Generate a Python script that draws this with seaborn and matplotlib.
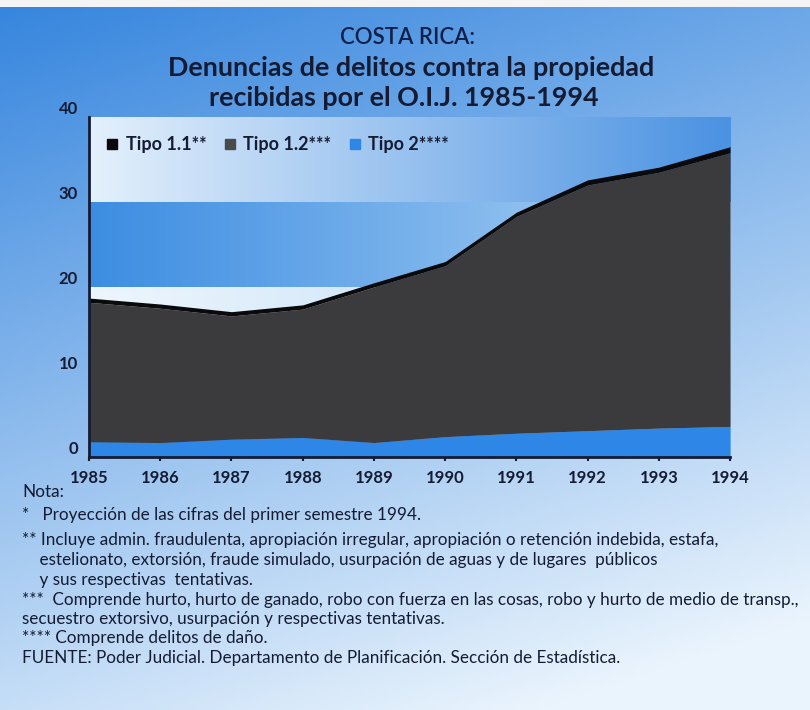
import matplotlib
matplotlib.use("Agg")
import matplotlib.pyplot as plt
import numpy as np
import pandas as pd
import seaborn as sns
from matplotlib.colors import to_rgb
from matplotlib.lines import Line2D

YEARS = [1985, 1986, 1987, 1988, 1989, 1990, 1991, 1992, 1993, 1994]
TIPO_2 = [1.8, 1.7, 2.1, 2.3, 1.7, 2.4, 2.8, 3.1, 3.4, 3.6]
TIPO_12 = [16.4, 15.8, 14.5, 15.1, 18.3, 20.1, 25.5, 28.9, 30.1, 32.2]
TIPO_11 = [0.5, 0.5, 0.5, 0.5, 0.5, 0.5, 0.5, 0.6, 0.6, 0.7]
SERIES = ["Tipo 1.1**", "Tipo 1.2***", "Tipo 2****"]
Y_TICKS = [0, 10, 20, 30, 40]

TITLE_1 = "COSTA RICA:"
TITLE_2 = "Denuncias de delitos contra la propiedad"
TITLE_3 = "recibidas por el O.I.J. 1985-1994"
NOTES = [
    "Nota:",
    "*   Proyección de las cifras del primer semestre 1994.",
    "** Incluye admin. fraudulenta, apropiación irregular, apropiación o retención indebida, estafa,",
    "    estelionato, extorsión, fraude simulado, usurpación de aguas y de lugares  públicos",
    "    y sus respectivas  tentativas.",
    "***  Comprende hurto, hurto de ganado, robo con fuerza en las cosas, robo y hurto de medio de transp.,",
    "secuestro extorsivo, usurpación y respectivas tentativas.",
    "**** Comprende delitos de daño.",
    "FUENTE: Poder Judicial. Departamento de Planificación. Sección de Estadística.",
]

C_11 = "#0a0a0c"
C_12 = "#3b3b3e"
C_2 = "#2e86e6"
INK = "#141b33"

sns.set_theme(style="white")
plt.rcParams["font.family"] = ["Lato", "DejaVu Sans"]

df = pd.DataFrame({"year": YEARS, SERIES[2]: TIPO_2, SERIES[1]: TIPO_12, SERIES[0]: TIPO_11})

fig = plt.figure(figsize=(8.1, 7.1), dpi=100)

# page background gradient
bg = fig.add_axes([0, 0, 1, 1], zorder=-10)
h, w = 200, 200
yy, xx = np.mgrid[0:1:h * 1j, 0:1:w * 1j]
t = np.clip(0.8 * yy + 0.3 * xx, 0, 1)[..., None]
c0, c1 = np.array(to_rgb("#3585de")), np.array(to_rgb("#eaf4fd"))
img = c0 * (1 - t) + c1 * t
img[:2, :, :] = 0.96
bg.imshow(img, aspect="auto", extent=[0, 1, 0, 1], origin="upper")
bg.set_axis_off()

ax = fig.add_axes([0.1099, 0.3563, 0.7914, 0.4789])

# banded backdrop inside the plot area
bands = [(0, 10, "#3f8fe3", "#a8d0f4"), (10, 20, "#eef6fd", "#b5d7f5"),
         (20, 30, "#3c8de2", "#b4d6f5"), (30, 40, "#e4f0fc", "#4a92e2")]
gx = np.linspace(0, 1, 200)[None, :, None]
for lo, hi, ca, cb in bands:
    a, b = np.array(to_rgb(ca)), np.array(to_rgb(cb))
    strip = a * (1 - gx) + b * gx
    ax.imshow(strip, aspect="auto", extent=[YEARS[0], YEARS[-1], lo, hi], zorder=0)

ax.stackplot(df["year"], df[SERIES[2]], df[SERIES[1]], df[SERIES[0]],
             colors=[C_2, C_12, C_11], linewidth=0, zorder=2)
ax.set_xlim(YEARS[0], YEARS[-1])
ax.set_ylim(0, 40)
ax.set_xticks(YEARS)
ax.set_yticks(Y_TICKS)
ax.set_xticklabels([str(y) for y in YEARS], fontsize=12, fontweight="bold", color=INK)
ax.set_yticklabels([str(v) for v in Y_TICKS], fontsize=12, fontweight="bold", color=INK, va="bottom")
ax.tick_params(axis="x", length=3, width=1.5, color=INK, pad=6, direction="out", bottom=True)
ax.tick_params(axis="y", length=0, pad=8)
sns.despine(ax=ax, top=True, right=True)
for side in ["left", "bottom"]:
    ax.spines[side].set_color(INK)
    ax.spines[side].set_linewidth(2)
    ax.spines[side].set_zorder(5)
ax.grid(False)

handles = [Line2D([], [], marker="s", linestyle="", markersize=7.5, color=c)
           for c in [C_11, "#4a4a4d", C_2]]
ax.legend(handles, SERIES, loc="upper left", bbox_to_anchor=(0.005, 0.98), ncol=3, frameon=False,
          prop={"weight": "bold", "size": 13}, handlelength=0.8, handletextpad=0.35,
          columnspacing=0.9, borderaxespad=0.3, labelcolor=INK)

fig.text(0.503, 1 - 38 / 710, TITLE_1, ha="center", va="center", fontsize=16,
         fontweight="semibold", color="#10204a")
fig.text(0.507, 1 - 68 / 710, TITLE_2, ha="center", va="center", fontsize=19.4, fontweight="bold", color=INK)
fig.text(0.499, 1 - 98 / 710, TITLE_3, ha="center", va="center", fontsize=19.4, fontweight="bold", color=INK)

note_y = [492, 515, 540, 560, 580, 600, 619, 638, 658]
for txt, y in zip(NOTES, note_y):
    fig.text(22 / 810, 1 - y / 710, txt, ha="left", va="center", fontsize=12.3, color=INK)

fig.savefig("out.png", dpi=100)
